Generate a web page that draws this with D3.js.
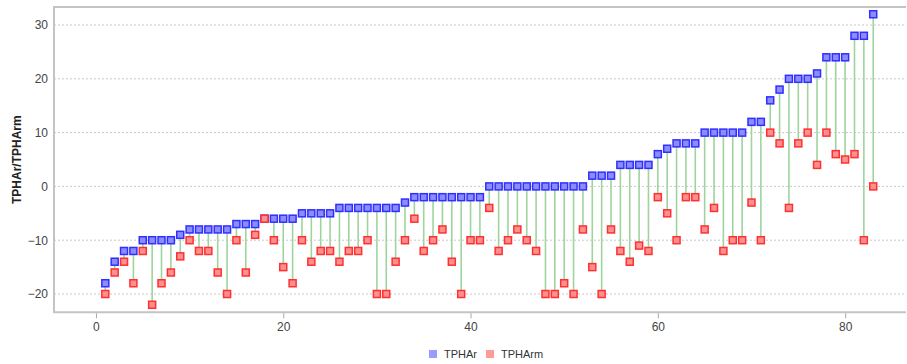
<!DOCTYPE html>
<html>
<head>
<meta charset="utf-8">
<script src="https://cdn.jsdelivr.net/npm/d3@7/dist/d3.min.js"></script>
<style>
  html, body { margin: 0; padding: 0; background: #fff; }
  svg { display: block; font-family: "Liberation Sans", Arial, sans-serif; }
</style>
</head>
<body>
<svg id="chart" width="907" height="364"></svg>
<script>
// Sample index (1..83) with the two measured series.
const sampleIds = d3.range(1, 84);
const tphAr = [
  -18, -14, -12, -12, -10, -10, -10, -10, -9, -8,
  -8, -8, -8, -8, -7, -7, -7, -6, -6, -6,
  -6, -5, -5, -5, -5, -4, -4, -4, -4, -4,
  -4, -4, -3, -2, -2, -2, -2, -2, -2, -2,
  -2, 0, 0, 0, 0, 0, 0, 0, 0, 0,
  0, 0, 2, 2, 2, 4, 4, 4, 4, 6,
  7, 8, 8, 8, 10, 10, 10, 10, 10, 12,
  12, 16, 18, 20, 20, 20, 21, 24, 24, 24,
  28, 28, 32
];
const tphArm = [
  -20, -16, -14, -18, -12, -22, -18, -16, -13, -10,
  -12, -12, -16, -20, -10, -16, -9, -6, -10, -15,
  -18, -10, -14, -12, -12, -14, -12, -12, -10, -20,
  -20, -14, -10, -6, -12, -10, -8, -14, -20, -10,
  -10, -4, -12, -10, -8, -10, -12, -20, -20, -18,
  -20, -8, -15, -20, -8, -12, -14, -11, -12, -2,
  -5, -10, -2, -2, -8, -4, -12, -10, -10, -3,
  -10, 10, 8, -4, 8, 10, 4, 10, 6, 5,
  6, -10, 0
];
const xTicks = [0, 20, 40, 60, 80];
const yTicks = [-20, -10, 0, 10, 20, 30];
const seriesNames = ["TPHAr", "TPHArm"];

const svg = d3.select("#chart");
const plotLeft = 54, plotRight = 906, plotTop = 7, plotBottom = 312.3;

const x = d3.scaleLinear().domain([-4.48, 86.5]).range([plotLeft, plotRight]);
const y = d3.scaleLinear().domain([-23.4, 33.35]).range([plotBottom, plotTop]);

const rows = sampleIds.map((id, i) => ({ id, a: tphAr[i], b: tphArm[i] }));

// Horizontal dotted gridlines
svg.append("g")
  .selectAll("line")
  .data(yTicks)
  .join("line")
  .attr("x1", plotLeft).attr("x2", plotRight)
  .attr("y1", d => y(d)).attr("y2", d => y(d))
  .attr("stroke", "#c8c8c8")
  .attr("stroke-width", 1)
  .attr("stroke-dasharray", "2,2");

// Plot frame
svg.append("path")
  .attr("d", `M${plotRight},${plotTop}H${plotLeft}V${plotBottom}H${plotRight}`)
  .attr("fill", "none")
  .attr("stroke", "#c4c4c4")
  .attr("stroke-width", 2);

// X axis ticks and labels
const xAxis = d3.axisBottom(x).tickValues(xTicks).tickSize(5).tickSizeOuter(0).tickPadding(4);
const gx = svg.append("g").attr("transform", `translate(0,${plotBottom + 1})`).call(xAxis);
gx.select(".domain").remove();
gx.selectAll(".tick line").attr("stroke", "#aaa");
gx.selectAll(".tick text").attr("fill", "#444").attr("font-size", 12)
  .attr("font-family", "'Liberation Sans', Arial, sans-serif");

// Y axis labels
const yAxis = d3.axisLeft(y).tickValues(yTicks).tickSize(0).tickPadding(6);
const gy = svg.append("g").attr("transform", `translate(${plotLeft},0)`).call(yAxis);
gy.select(".domain").remove();
gy.selectAll(".tick text").attr("fill", "#444").attr("font-size", 12)
  .attr("font-family", "'Liberation Sans', Arial, sans-serif");

// Y axis title
svg.append("text")
  .attr("transform", `translate(21,${(plotTop + plotBottom) / 2}) rotate(-90)`)
  .attr("text-anchor", "middle")
  .attr("font-size", 12)
  .attr("font-weight", "bold")
  .attr("fill", "#222")
  .text("TPHAr/TPHArm");

// Connecting stems between the two series
svg.append("g")
  .selectAll("line")
  .data(rows)
  .join("line")
  .attr("x1", d => x(d.id)).attr("x2", d => x(d.id))
  .attr("y1", d => y(d.a)).attr("y2", d => y(d.b))
  .attr("stroke", "#9fd49f")
  .attr("stroke-width", 1.6);

const s = 7;
// TPHAr markers
svg.append("g")
  .selectAll("rect")
  .data(rows)
  .join("rect")
  .attr("x", d => x(d.id) - s / 2).attr("y", d => y(d.a) - s / 2)
  .attr("width", s).attr("height", s)
  .attr("fill", "#8c8cff")
  .attr("stroke", "#2f2fff")
  .attr("stroke-width", 1.5);

// TPHArm markers
svg.append("g")
  .selectAll("rect")
  .data(rows)
  .join("rect")
  .attr("x", d => x(d.id) - s / 2).attr("y", d => y(d.b) - s / 2)
  .attr("width", s).attr("height", s)
  .attr("fill", "#ff9090")
  .attr("stroke", "#ff3030")
  .attr("stroke-width", 1.5);

// Legend
const legend = svg.append("g").attr("transform", "translate(429,350)");
const legendColors = ["#9a9aff", "#ff9a9a"];
const legendOffsets = [0, 57];
seriesNames.forEach((name, i) => {
  const g = legend.append("g").attr("transform", `translate(${legendOffsets[i]},0)`);
  g.append("rect").attr("x", 0).attr("y", 0).attr("width", 8).attr("height", 8)
    .attr("fill", legendColors[i]);
  g.append("text").attr("x", 15).attr("y", 8).attr("font-size", 11)
    .attr("fill", "#333").text(name);
});
</script>
</body>
</html>
